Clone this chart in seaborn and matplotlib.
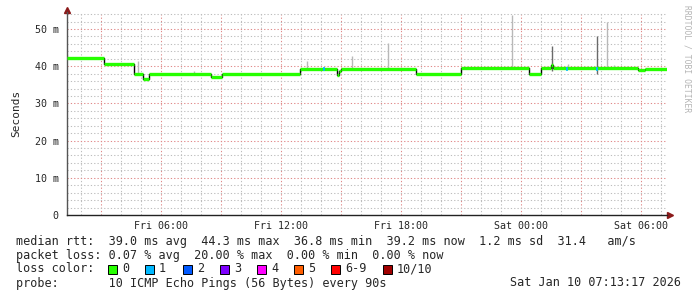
import matplotlib
matplotlib.use("Agg")
import matplotlib.pyplot as plt
import seaborn as sns
import pandas as pd
from matplotlib.patches import Rectangle

# ---- data (time in hours since Fri 00:00) ----
seg_start = [1.3, 3.15, 4.65, 5.1, 5.4, 8.5, 9.05, 12.95, 14.8, 14.9, 15.0,
             18.75, 21.0, 24.4, 25.0, 25.5, 25.6, 29.85, 30.2]
seg_median = [42.2, 40.7, 37.8, 36.7, 37.9, 37.1, 37.9, 39.2, 37.6, 38.6, 39.2,
              37.9, 39.4, 37.8, 39.4, 40.2, 39.4, 39.0, 39.2]
end_time = 31.3

smoke_t = [1.3, 4.85, 7.65, 13.3, 15.55, 17.35, 23.55, 26.35, 28.3, 28.65]
smoke_top = [43.3, 41.5, 38.7, 41.5, 42.8, 46.2, 53.8, 40.5, 51.8, 40.3]
dark_smoke_t = [25.55, 27.8]
dark_smoke_top = [45.4, 48.1]

loss1_t = [14.15, 26.3, 27.8]
loss1_val = [39.2, 39.3, 39.3]

x_ticks = [6, 12, 18, 24, 30]
x_ticklabels = ["Fri 06:00", "Fri 12:00", "Fri 18:00", "Sat 00:00", "Sat 06:00"]
y_ticks = [0, 10, 20, 30, 40, 50]
y_ticklabels = ["0", "10 m", "20 m", "30 m", "40 m", "50 m"]

loss_labels = ["0", "1", "2", "3", "4", "5", "6-9", "10/10"]
loss_colors = ["#26ff00", "#00b8ff", "#0059ff", "#7e00ff", "#ff00ff",
               "#ff5e00", "#ff0000", "#a00000"]
loss_box_x = [108, 145, 183, 220, 257, 294, 331, 383]

stats_line1 = "median rtt:  39.0 ms avg  44.3 ms max  36.8 ms min  39.2 ms now  1.2 ms sd  31.4   am/s"
stats_line2 = "packet loss: 0.07 % avg  20.00 % max  0.00 % min  0.00 % now"
stats_line3 = "loss color:"
stats_line4 = "probe:       10 ICMP Echo Pings (56 Bytes) every 90s"
stamp = "Sat Jan 10 07:13:17 2026"

# ---- figure ----
sns.set_style("white")
plt.rcParams["font.family"] = ["DejaVu Sans Mono"]
W, H = 697, 297
fig = plt.figure(figsize=(W / 100, H / 100), dpi=100)
ax = fig.add_axes([67 / W, 1 - 215 / H, 600 / W, (215 - 12.3) / H])

t0, t1 = seg_start[0], end_time
ax.set_xlim(t0, t1)
ax.set_ylim(0, 54.5)

# grid
minor_col = "#bdbdbd"
major_col = "#e08888"
for h in range(2, 32):
    if t0 < h < t1:
        ax.axvline(h, color=major_col if h % 3 == 0 else minor_col,
                   lw=0.75, ls=(0, (1.2, 2)), zorder=0)
for v in range(2, 55, 2):
    ax.axhline(v, color=major_col if v % 10 == 0 else minor_col,
               lw=0.75, ls=(0, (1.2, 2)), zorder=0)

# smoke
med_at = lambda t: seg_median[max(i for i, s in enumerate(seg_start) if s <= t)]
ax.vlines(smoke_t, [med_at(t) for t in smoke_t], smoke_top, color="#b8b8b8", lw=1.0, zorder=1)
ax.vlines(dark_smoke_t, [med_at(t) - 1.5 for t in dark_smoke_t], dark_smoke_top,
          color="#6a6a6a", lw=1.0, zorder=1)

# median step line
df = pd.DataFrame({"t": seg_start + [end_time], "median": seg_median + [seg_median[-1]]})
sns.lineplot(data=df, x="t", y="median", drawstyle="steps-post", color="black",
             lw=1.0, ax=ax, zorder=2)
ax.hlines(seg_median, seg_start, seg_start[1:] + [end_time], color="#26ff00",
          lw=2.4, zorder=3)
ax.hlines(loss1_val, [t - 0.06 for t in loss1_t], [t + 0.06 for t in loss1_t],
          color="#00b8ff", lw=2.6, zorder=4)

# axes styling
for s in ["top", "right"]:
    ax.spines[s].set_visible(False)
ax.spines["left"].set_color("#555555")
ax.spines["bottom"].set_color("#222222")
ax.spines["left"].set_linewidth(1.0)
ax.spines["bottom"].set_linewidth(1.0)
ax.set_xticks(x_ticks)
ax.set_xticklabels(x_ticklabels, fontsize=7.2)
ax.set_yticks(y_ticks)
ax.set_yticklabels(y_ticklabels, fontsize=7.2)
ax.tick_params(axis="both", length=0)
ax.tick_params(axis="y", pad=6)
ax.tick_params(axis="x", pad=4)
ax.set_xlabel("")
ax.set_ylabel("Seconds", fontsize=8, labelpad=10)

# axis arrows
ax.plot([0], [1.01], marker="^", color="#8b1a1a", ms=4.5, transform=ax.transAxes, clip_on=False)
ax.plot([1.005], [0], marker=">", color="#8b1a1a", ms=4.5, transform=ax.transAxes, clip_on=False)

# watermark
fig.text(687 / W, 1 - 5 / H, "RRDTOOL / TOBI OETIKER", rotation=270, va="top",
         ha="center", fontsize=5.8, color="#b4b4b4")

# legend text
fs = 8.5
ys = [241, 255, 269, 283]
fig.text(16 / W, 1 - ys[0] / H, stats_line1, fontsize=fs, va="center", ha="left")
fig.text(16 / W, 1 - ys[1] / H, stats_line2, fontsize=fs, va="center", ha="left")
fig.text(16 / W, 1 - ys[2] / H, stats_line3, fontsize=fs, va="center", ha="left")
fig.text(16 / W, 1 - ys[3] / H, stats_line4, fontsize=fs, va="center", ha="left")
fig.text(681 / W, 1 - ys[3] / H, stamp, fontsize=fs, va="center", ha="right")
for bx, col, lab in zip(loss_box_x, loss_colors, loss_labels):
    fig.patches.append(Rectangle((bx / W, 1 - (ys[2] + 4.5) / H), 9 / W, 9 / H,
                                 transform=fig.transFigure, facecolor=col,
                                 edgecolor="black", lw=0.7))
    fig.text((bx + 14) / W, 1 - ys[2] / H, lab, fontsize=fs, va="center", ha="left")

fig.savefig("out.png", dpi=100, facecolor="white")
